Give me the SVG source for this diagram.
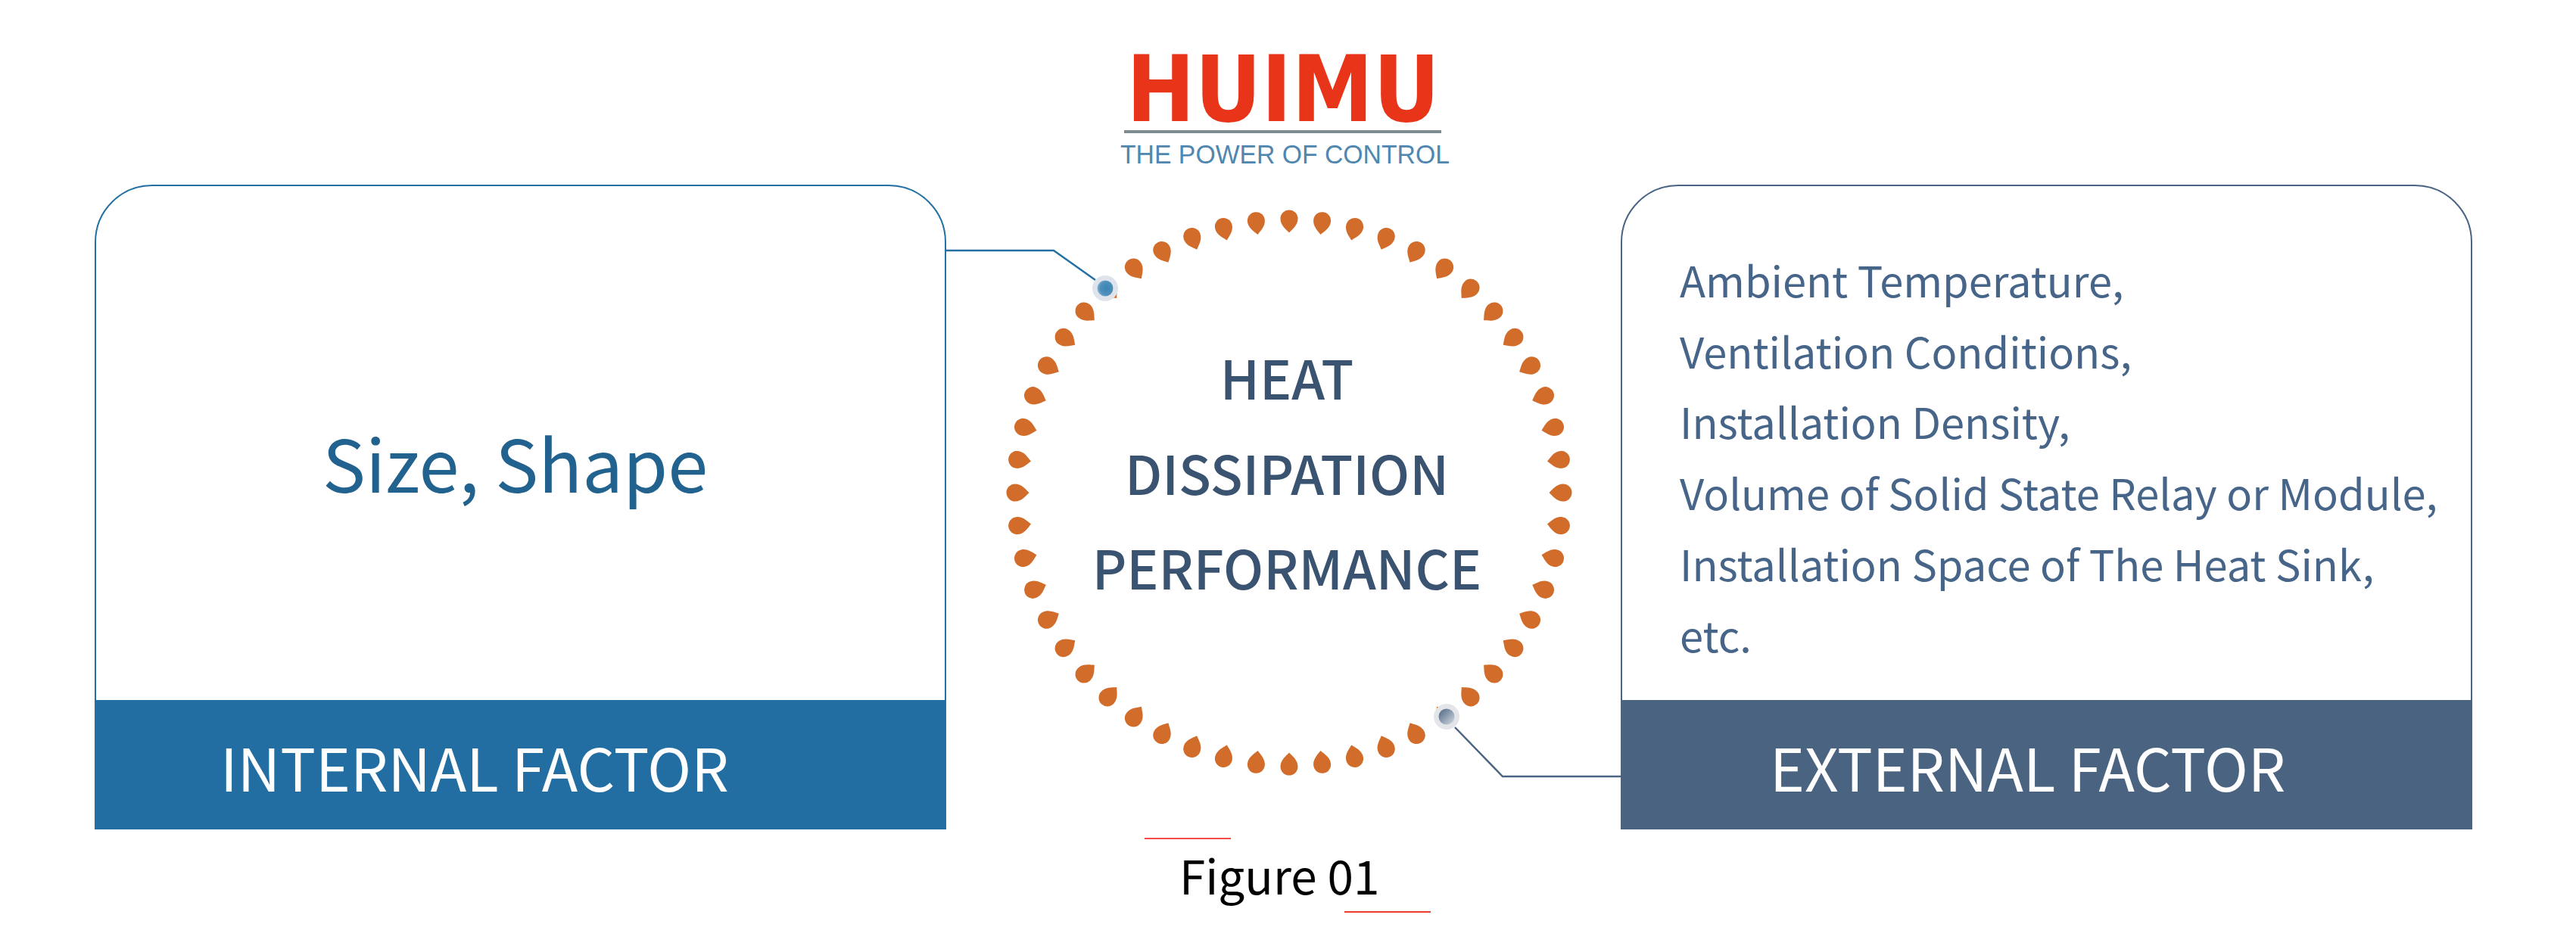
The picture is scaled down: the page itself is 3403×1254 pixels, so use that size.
<svg xmlns="http://www.w3.org/2000/svg" width="3403" height="1254" viewBox="0 0 3403 1254">
<style>
text{font-family:"Noto Sans CJK SC","Noto Sans",sans-serif}
.list{font-size:56px;fill:#466589}
.bar{font-size:78px;fill:#fff}
.core{font-size:70.500px;fill:#3a5371;text-anchor:middle;font-weight:500}
.conn{fill:none;stroke-width:2.5}
</style>
<defs>
<radialGradient id="gb" cx="0.6" cy="0.5" r="0.7"><stop offset="0" stop-color="#3b84b4"/><stop offset="0.6" stop-color="#4f90bb"/><stop offset="1" stop-color="#a9c6dc"/></radialGradient>
<linearGradient id="gd" x1="0" y1="0" x2="1" y2="1"><stop offset="0" stop-color="#4a6483"/><stop offset="1" stop-color="#d5dbe2"/></linearGradient>
<path id="d" d="M0 18.500C-4 14-11.500 9-11.500 0A11.500 11.500 0 0 1 11.500 0C11.500 9 4 14 0 18.500Z" fill="#d16c2a" transform="translate(1703 289)"/>
<g id="q">
<use href="#d"/>
<use href="#d" transform="rotate(6.923 1703 651)"/>
<use href="#d" transform="rotate(13.846 1703 651)"/>
<use href="#d" transform="rotate(20.769 1703 651)"/>
<use href="#d" transform="rotate(27.692 1703 651)"/>
<use href="#d" transform="rotate(34.615 1703 651)"/>
<use href="#d" transform="rotate(41.538 1703 651)"/>
<use href="#d" transform="rotate(48.462 1703 651)"/>
<use href="#d" transform="rotate(55.385 1703 651)"/>
<use href="#d" transform="rotate(62.308 1703 651)"/>
<use href="#d" transform="rotate(69.231 1703 651)"/>
<use href="#d" transform="rotate(76.154 1703 651)"/>
<use href="#d" transform="rotate(83.077 1703 651)"/>
</g>
</defs>
<rect width="3403" height="1254" fill="#fff"/>
<g id="logo">
<text x="1488" y="160" font-size="120.700" font-weight="700" textLength="414" lengthAdjust="spacingAndGlyphs" fill="#e83418" style="font-family:'DejaVu Sans',sans-serif">HUIMU</text>
<rect x="1485" y="172" width="419" height="4" fill="#7d8a90"/>
<text x="1480" y="216" font-size="35" textLength="435" lengthAdjust="spacingAndGlyphs" fill="#4f87b0" style="font-family:'Liberation Sans',sans-serif">THE POWER OF CONTROL</text>
</g>
<g id="connectors">
<path class="conn" stroke="#2470a2" d="M1249 331H1392L1447 370"/>
<path class="conn" stroke="#4a6483" d="M1922 961L1985 1026H2142"/>
</g>
<g id="internal">
<path d="M126 925V320A75 75 0 0 1 201 245H1174A75 75 0 0 1 1249 320V925" fill="#fff" stroke="#2470a2" stroke-width="2"/>
<rect x="125" y="925" width="1125" height="171" fill="#226ea2"/>
<text x="426" y="651" font-size="95.500" fill="#22628f">Size, Shape</text>
<text class="bar" x="291" y="1046">INTERNAL FACTOR</text>
</g>
<g id="external">
<path d="M2142 925V320A75 75 0 0 1 2217 245H3190A75 75 0 0 1 3265 320V925" fill="#fff" stroke="#4a6483" stroke-width="2"/>
<rect x="2141" y="925" width="1125" height="171" fill="#4a6380"/>
<text class="list" x="2219" y="393">Ambient Temperature,</text>
<text class="list" x="2219" y="487">Ventilation Conditions,</text>
<text class="list" x="2219" y="580">Installation Density,</text>
<text class="list" x="2219" y="674">Volume of Solid State Relay or Module,</text>
<text class="list" x="2219" y="768">Installation Space of The Heat Sink,</text>
<text class="list" x="2219" y="862">etc.</text>
<text class="bar" x="2338" y="1046">EXTERNAL FACTOR</text>
</g>
<g id="core">
<use href="#q"/>
<use href="#q" transform="rotate(90 1703 651)"/>
<use href="#q" transform="rotate(180 1703 651)"/>
<use href="#q" transform="rotate(270 1703 651)"/>
<text class="core" x="1700" y="528">HEAT</text>
<text class="core" x="1700" y="654">DISSIPATION</text>
<text class="core" x="1700" y="779">PERFORMANCE</text>
</g>
<g id="dot-a"><circle cx="1460" cy="381" r="17" fill="#dfe4ec"/><circle cx="1460" cy="381" r="10.500" fill="url(#gb)"/></g>
<g id="dot-b"><circle cx="1911" cy="947" r="17" fill="#e3e5e9"/><circle cx="1911" cy="947" r="10.500" fill="url(#gd)"/></g>
<g id="caption">
<rect x="1512" y="1107" width="114" height="2" fill="#f44a4a"/>
<text x="1558" y="1182" font-size="62" fill="#000">Figure 01</text>
<rect x="1776" y="1204" width="114" height="2" fill="#ee3a2a"/>
</g>
</svg>
